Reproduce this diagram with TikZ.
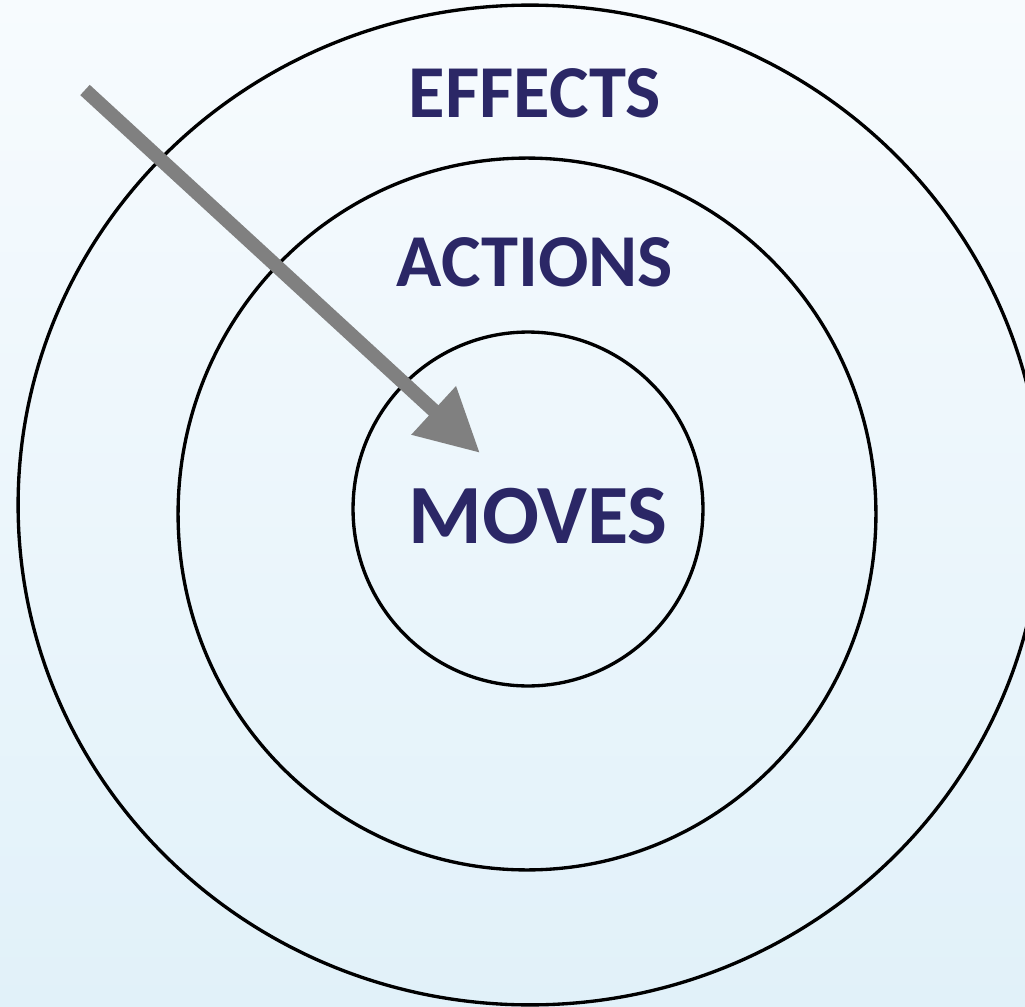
\documentclass[tikz,border=0pt]{standalone}
\usepackage{fontspec}
\setmainfont{Carlito}
\usetikzlibrary{arrows.meta}
\definecolor{ringtext}{RGB}{43,39,102}
\definecolor{arrowgray}{RGB}{128,128,128}
\definecolor{bgtop}{RGB}{247,251,254}
\definecolor{bgbot}{RGB}{225,241,249}
\tikzset{
  ring/.style={line width=1.9pt, black},
  word/.style={text=ringtext, font=\bfseries\fontsize{42.5}{50}\selectfont, inner sep=0pt},
  aim/.style={arrowgray, line width=0.28cm, -{Triangle[length=1.26cm, width=1.24cm]}}
}
\begin{document}
\begin{tikzpicture}[x=0.02cm,y=-0.02cm]
\useasboundingbox (0,0) rectangle (1025,1007);
\shade[top color=bgtop, bottom color=bgbot] (0,0) rectangle (1025,1007);

\coordinate(c1) at (530,505);
\coordinate(c2) at (527,514);
\coordinate(c3) at (528,509);

\draw[ring] (c1) ellipse [x radius=10.24cm, y radius=10.0cm];
\draw[ring] (c2) ellipse [x radius=6.98cm, y radius=7.12cm];
\draw[ring] (c3) ellipse [x radius=3.5cm, y radius=3.54cm];

\node[word] (effects) at (535,93) {EFFECTS};
\node[word] (actions) at (535,262) {ACTIONS};
\node[word, font=\bfseries\fontsize{48}{56}\selectfont] (moves) at (538,516) {MOVES};

\coordinate(start) at (85,90);
\coordinate(tip) at (480,453);
\draw[aim] (start) -- (tip);

\end{tikzpicture}
\end{document}
